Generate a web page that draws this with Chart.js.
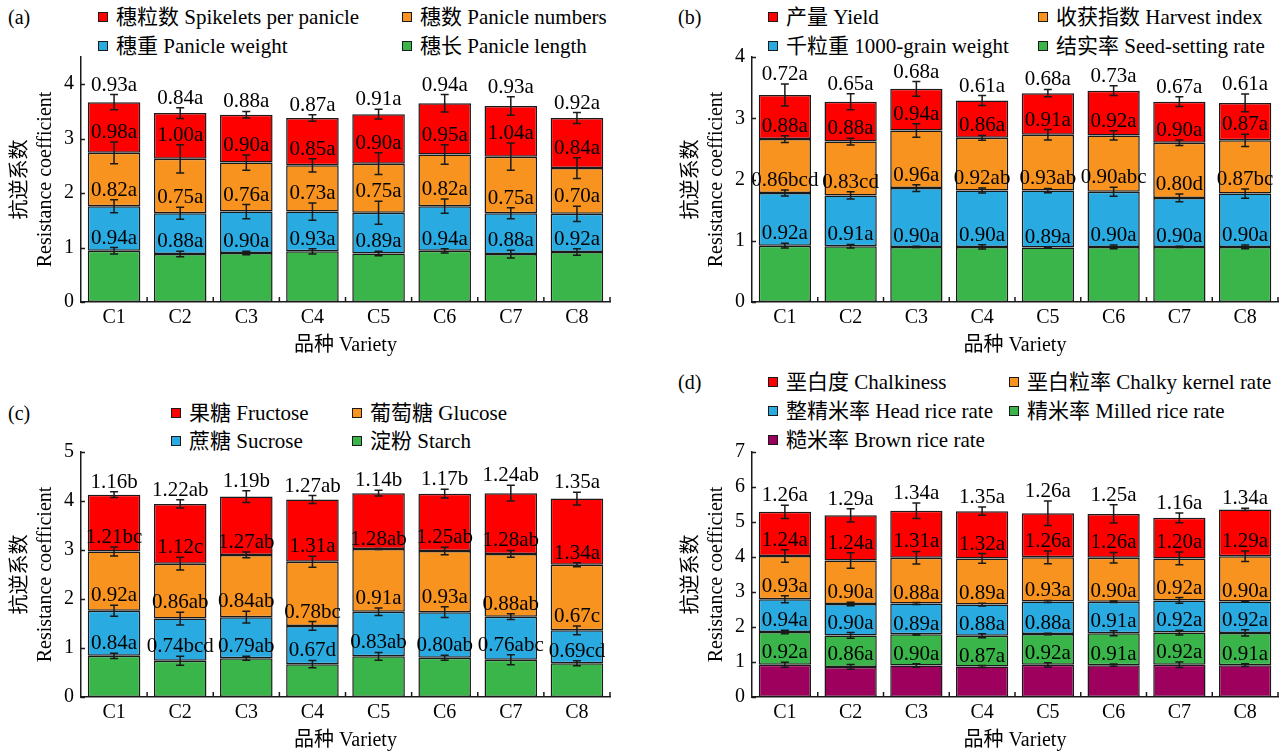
<!DOCTYPE html>
<html>
<head>
<meta charset="utf-8">
<script src="https://cdn.jsdelivr.net/npm/chart.js@4.4.1/dist/chart.umd.min.js"></script>
<style>
  body { margin: 0; background: #fff; width: 1283px; height: 753px; position: relative; overflow: hidden;
         font-family: 'Liberation Serif', 'Noto Sans CJK SC', serif; color: #000; }
  .box { position: absolute; }
  .tag { position: absolute; font-size: 20px; line-height: 24px; }
  .leg { position: absolute; font-size: 21px; line-height: 24px; height: 24px; display: flex; align-items: center; white-space: nowrap; }
  .leg i { display: inline-block; width: 8px; height: 8px; border: 1px solid #1a1a1a; margin-right: 8px; }
</style>
</head>
<body>
<div class="tag" style="left:8px;top:5px">(a)</div>
<div class="tag" style="left:678px;top:5px">(b)</div>
<div class="tag" style="left:8px;top:401px">(c)</div>
<div class="tag" style="left:678px;top:370px">(d)</div>
<div id="legA"></div><div id="legB"></div><div id="legC"></div><div id="legD"></div>
<canvas id="chartA" class="box" width="625" height="320" style="left:0;top:38px"></canvas>
<canvas id="chartB" class="box" width="612" height="320" style="left:671px;top:38px"></canvas>
<canvas id="chartC" class="box" width="625" height="320" style="left:0;top:433px"></canvas>
<canvas id="chartD" class="box" width="612" height="320" style="left:671px;top:433px"></canvas>
<script>
// 抗逆系数 — 各品种堆叠柱状图
const VARIETIES = ['C1','C2','C3','C4','C5','C6','C7','C8'];
const COLORS = { red: '#FF0000', orange: '#F7931E', blue: '#29ABE2', green: '#39B54A', purple: '#9E005D' };

// (a) 穗部性状
const aLength    = [0.94, 0.88, 0.90, 0.93, 0.89, 0.94, 0.88, 0.92];
const aWeight    = [0.82, 0.75, 0.76, 0.73, 0.75, 0.82, 0.75, 0.70];
const aNumbers   = [0.98, 1.00, 0.90, 0.85, 0.90, 0.95, 1.04, 0.84];
const aSpikelets = [0.93, 0.84, 0.88, 0.87, 0.91, 0.94, 0.93, 0.92];
const aLengthErr    = [0.06, 0.05, 0.03, 0.05, 0.04, 0.04, 0.07, 0.06];
const aWeightErr    = [0.12, 0.11, 0.13, 0.16, 0.21, 0.13, 0.10, 0.14];
const aNumbersErr   = [0.20, 0.26, 0.14, 0.12, 0.20, 0.18, 0.25, 0.19];
const aSpikeletsErr = [0.14, 0.10, 0.06, 0.06, 0.09, 0.16, 0.17, 0.10];
const aLengthSig    = ['a','a','a','a','a','a','a','a'];
const aWeightSig    = ['a','a','a','a','a','a','a','a'];
const aNumbersSig   = ['a','a','a','a','a','a','a','a'];
const aSpikeletsSig = ['a','a','a','a','a','a','a','a'];

// (b) 产量构成
const bSeed    = [0.92, 0.91, 0.90, 0.90, 0.89, 0.90, 0.90, 0.90];
const bGrain   = [0.86, 0.83, 0.96, 0.92, 0.93, 0.90, 0.80, 0.87];
const bHarvest = [0.88, 0.88, 0.94, 0.86, 0.91, 0.92, 0.90, 0.87];
const bYield   = [0.72, 0.65, 0.68, 0.61, 0.68, 0.73, 0.67, 0.61];
const bSeedErr    = [0.04, 0.03, 0.01, 0.035, 0.01, 0.03, 0.01, 0.03];
const bGrainErr   = [0.05, 0.06, 0.055, 0.04, 0.035, 0.075, 0.065, 0.075];
const bHarvestErr = [0.055, 0.055, 0.11, 0.04, 0.085, 0.075, 0.045, 0.10];
const bYieldErr   = [0.18, 0.13, 0.12, 0.08, 0.06, 0.08, 0.08, 0.145];
const bSeedSig    = ['a','a','a','a','a','a','a','a'];
const bGrainSig   = ['bcd','cd','a','ab','ab','abc','d','bc'];
const bHarvestSig = ['a','a','a','a','a','a','a','a'];
const bYieldSig   = ['a','a','a','a','a','a','a','a'];

// (c) 糖类
const cStarch   = [0.84, 0.74, 0.79, 0.67, 0.83, 0.80, 0.76, 0.69];
const cSucrose  = [0.92, 0.86, 0.84, 0.78, 0.91, 0.93, 0.88, 0.67];
const cGlucose  = [1.21, 1.12, 1.27, 1.31, 1.28, 1.25, 1.28, 1.34];
const cFructose = [1.16, 1.22, 1.19, 1.27, 1.14, 1.17, 1.24, 1.35];
const cStarchErr   = [0.055, 0.09, 0.04, 0.075, 0.08, 0.05, 0.10, 0.05];
const cSucroseErr  = [0.11, 0.13, 0.12, 0.09, 0.075, 0.11, 0.06, 0.09];
const cGlucoseErr  = [0.09, 0.13, 0.06, 0.11, 0.01, 0.075, 0.07, 0.04];
const cFructoseErr = [0.06, 0.085, 0.12, 0.08, 0.06, 0.09, 0.16, 0.13];
const cStarchSig   = ['a','bcd','ab','d','ab','ab','abc','cd'];
const cSucroseSig  = ['a','ab','ab','bc','a','a','ab','c'];
const cGlucoseSig  = ['bc','c','ab','a','ab','ab','ab','a'];
const cFructoseSig = ['b','ab','b','ab','b','b','ab','a'];

// (d) 米质
const dBrown        = [0.92, 0.86, 0.90, 0.87, 0.92, 0.91, 0.92, 0.91];
const dMilled       = [0.94, 0.90, 0.89, 0.88, 0.88, 0.91, 0.92, 0.92];
const dHead         = [0.93, 0.90, 0.88, 0.89, 0.93, 0.90, 0.92, 0.90];
const dChalkyKernel = [1.24, 1.24, 1.31, 1.32, 1.26, 1.26, 1.20, 1.29];
const dChalkiness   = [1.26, 1.29, 1.34, 1.35, 1.26, 1.25, 1.16, 1.34];
const dBrownErr        = [0.07, 0.07, 0.05, 0.03, 0.06, 0.03, 0.08, 0.04];
const dMilledErr       = [0.05, 0.08, 0.02, 0.06, 0.02, 0.07, 0.07, 0.09];
const dHeadErr         = [0.10, 0.05, 0.03, 0.04, 0.03, 0.02, 0.08, 0.02];
const dChalkyKernelErr = [0.18, 0.22, 0.18, 0.14, 0.18, 0.15, 0.18, 0.15];
const dChalkinessErr   = [0.19, 0.19, 0.22, 0.12, 0.35, 0.26, 0.14, 0.03];
const dBrownSig        = ['a','a','a','a','a','a','a','a'];
const dMilledSig       = ['a','a','a','a','a','a','a','a'];
const dHeadSig         = ['a','a','a','a','a','a','a','a'];
const dChalkyKernelSig = ['a','a','a','a','a','a','a','a'];
const dChalkinessSig   = ['a','a','a','a','a','a','a','a'];

const FONT = "'Liberation Serif', 'Noto Sans CJK SC', serif";
const INK = '#1a1a1a';

// barras de error + etiquetas encima de cada segmento
const errorBars = {
  id: 'errorBars',
  afterDatasetsDraw(chart) {
    const { ctx } = chart;
    const y = chart.scales.y;
    const sums = chart.data.labels.map(() => 0);
    ctx.save();
    ctx.strokeStyle = INK; ctx.lineWidth = 1.5;
    ctx.fillStyle = '#000';
    ctx.font = "21px " + FONT;
    ctx.textAlign = 'center'; ctx.textBaseline = 'alphabetic';
    chart.data.datasets.forEach((ds, di) => {
      const meta = chart.getDatasetMeta(di);
      meta.data.forEach((bar, i) => {
        sums[i] += ds.data[i];
        const top = y.getPixelForValue(sums[i] + ds.errors[i]);
        const bot = y.getPixelForValue(sums[i] - ds.errors[i]);
        ctx.beginPath();
        ctx.moveTo(bar.x, top); ctx.lineTo(bar.x, bot);
        ctx.moveTo(bar.x - 4, top); ctx.lineTo(bar.x + 4, top);
        ctx.moveTo(bar.x - 4, bot); ctx.lineTo(bar.x + 4, bot);
        ctx.stroke();
        ctx.fillText(ds.data[i].toFixed(2) + ds.sig[i], bar.x, top - 4);
      });
    });
    ctx.restore();
  }
};

// ticks hacia dentro en ambos ejes
const axisMarks = {
  id: 'axisMarks',
  afterDraw(chart) {
    const { ctx, chartArea: a } = chart;
    const { x, y } = chart.scales;
    ctx.save();
    ctx.strokeStyle = INK; ctx.lineWidth = 1.5;
    ctx.beginPath();
    y.ticks.forEach(t => {
      const py = Math.round(y.getPixelForValue(t.value)) + 0.5;
      ctx.moveTo(a.left, py); ctx.lineTo(a.left + 4, py);
    });
    const n = chart.data.labels.length;
    for (let i = 1; i <= n; i++) {
      const px = i < n ? (x.getPixelForValue(i - 1) + x.getPixelForValue(i)) / 2 : a.right;
      ctx.moveTo(px, a.bottom); ctx.lineTo(px, a.bottom - 5);
    }
    ctx.stroke();
    ctx.restore();
  }
};

function makeSeries(name, color, values, errors, sig) {
  return { name, color, values, errors, sig };
}

function renderPanel(canvasId, series, yMax, padRight) {
  return new Chart(document.getElementById(canvasId), {
    type: 'bar',
    data: {
      labels: VARIETIES,
      datasets: series.map(s => ({
        label: s.name, data: s.values, errors: s.errors, sig: s.sig,
        backgroundColor: s.color, borderColor: INK, borderWidth: 1.5, borderSkipped: false,
        barPercentage: 0.795, categoryPercentage: 1
      }))
    },
    options: {
      responsive: false, animation: false,
      layout: { padding: { top: 8, right: padRight, left: 0, bottom: 0 } },
      plugins: { legend: { display: false }, tooltip: { enabled: false } },
      scales: {
        x: {
          stacked: true,
          grid: { display: false, drawTicks: false },
          border: { display: true, color: INK, width: 1.5 },
          ticks: { color: '#000', padding: 4, font: { size: 20, family: FONT } },
          title: { display: true, text: '品种 Variety', color: '#000', padding: { top: 0, bottom: 0 }, font: { size: 20, family: FONT } },
          afterFit: s => { s.height = 56; }
        },
        y: {
          stacked: true, min: 0, max: yMax,
          grid: { display: false, drawTicks: false },
          border: { display: true, color: INK, width: 1.5 },
          ticks: { stepSize: 1, color: '#000', padding: 7, font: { size: 20, family: FONT } },
          afterBuildTicks: s => { s.ticks = s.ticks.filter(t => Number.isInteger(t.value)); },
          title: { display: true, text: ['抗逆系数', 'Resistance coefficient'], color: '#000',
                   padding: { top: 8, bottom: 0 }, font: { size: 20, family: FONT, lineHeight: 1.25 } },
          afterFit: s => { s.width = 81; }
        }
      }
    },
    plugins: [axisMarks, errorBars]
  });
}

// leyenda HTML (orden inverso al apilado)
function renderLegend(id, series, slots) {
  const order = series.slice().reverse();
  document.getElementById(id).innerHTML = order.map((s, i) => `
    <div class="leg" style="left:${slots[i][0]}px;top:${slots[i][1] - 12}px">
      <i style="background:${s.color}"></i>${s.name}
    </div>`).join('');
}

const seriesA = [
  makeSeries('穗长 Panicle length', COLORS.green, aLength, aLengthErr, aLengthSig),
  makeSeries('穗重 Panicle weight', COLORS.blue, aWeight, aWeightErr, aWeightSig),
  makeSeries('穗数 Panicle numbers', COLORS.orange, aNumbers, aNumbersErr, aNumbersSig),
  makeSeries('穗粒数 Spikelets per panicle', COLORS.red, aSpikelets, aSpikeletsErr, aSpikeletsSig)
];
const seriesB = [
  makeSeries('结实率 Seed-setting rate', COLORS.green, bSeed, bSeedErr, bSeedSig),
  makeSeries('千粒重 1000-grain weight', COLORS.blue, bGrain, bGrainErr, bGrainSig),
  makeSeries('收获指数 Harvest index', COLORS.orange, bHarvest, bHarvestErr, bHarvestSig),
  makeSeries('产量 Yield', COLORS.red, bYield, bYieldErr, bYieldSig)
];
const seriesC = [
  makeSeries('淀粉 Starch', COLORS.green, cStarch, cStarchErr, cStarchSig),
  makeSeries('蔗糖 Sucrose', COLORS.blue, cSucrose, cSucroseErr, cSucroseSig),
  makeSeries('葡萄糖 Glucose', COLORS.orange, cGlucose, cGlucoseErr, cGlucoseSig),
  makeSeries('果糖 Fructose', COLORS.red, cFructose, cFructoseErr, cFructoseSig)
];
const seriesD = [
  makeSeries('糙米率 Brown rice rate', COLORS.purple, dBrown, dBrownErr, dBrownSig),
  makeSeries('精米率 Milled rice rate', COLORS.green, dMilled, dMilledErr, dMilledSig),
  makeSeries('整精米率 Head rice rate', COLORS.blue, dHead, dHeadErr, dHeadSig),
  makeSeries('垩白粒率 Chalky kernel rate', COLORS.orange, dChalkyKernel, dChalkyKernelErr, dChalkyKernelSig),
  makeSeries('垩白度 Chalkiness', COLORS.red, dChalkiness, dChalkinessErr, dChalkinessSig)
];

renderLegend('legA', seriesA, [[98, 17], [402, 17], [98, 46], [402, 46]]);
renderLegend('legB', seriesB, [[768, 17], [1038, 17], [768, 46], [1038, 46]]);
renderLegend('legC', seriesC, [[171, 413], [352, 413], [171, 441], [352, 441]]);
renderLegend('legD', seriesD, [[768, 382], [1009, 382], [768, 411], [1009, 411], [768, 440]]);

renderPanel('chartA', seriesA, 4.5, 15);
renderPanel('chartB', seriesB, 4, 5);
renderPanel('chartC', seriesC, 5, 15);
renderPanel('chartD', seriesD, 7, 5);
</script>
</body>
</html>
